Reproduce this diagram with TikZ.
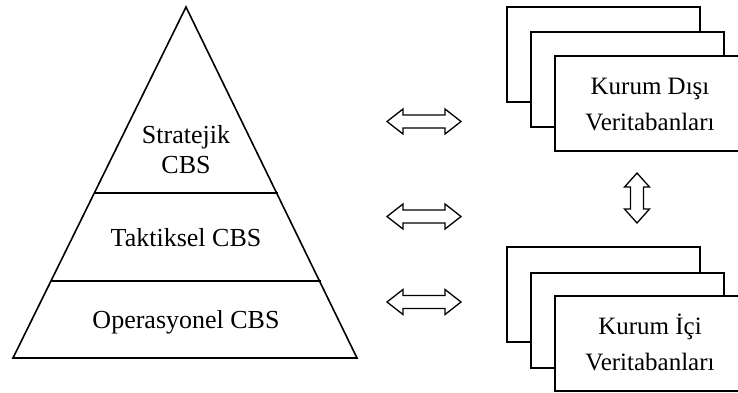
\documentclass[tikz,border=0pt]{standalone}
\usepackage{fontspec}
\setmainfont{Liberation Serif}
\usetikzlibrary{calc}
\begin{document}
\begin{tikzpicture}[x=1pt,y=-1pt,
  dbbox/.style={draw,line width=1.6pt,fill=white,minimum width=193pt,minimum height=95pt,anchor=north west,inner sep=0pt},
  pyrtext/.style={font=\fontsize{26}{30}\selectfont,align=center,inner sep=0pt},
  boxtext/.style={font=\fontsize{25}{36}\selectfont,align=center,inner sep=0pt},
  arr/.style={draw,line width=1.3pt,fill=white,line join=miter}]
\clip (0,0) rectangle (738,392);
\useasboundingbox (0,0) rectangle (738,392);
% pyramid
\coordinate (apex) at (186,7);
\coordinate (bl) at (13,358);
\coordinate (br) at (357,358);
\draw[line width=1.6pt,line join=miter] (apex) -- (br) -- (bl) -- cycle;
\coordinate (l1a) at (94.3,193);
\coordinate (l1b) at (277.7,193);
\coordinate (l2a) at (51,281);
\coordinate (l2b) at (321,281);
\draw[line width=2.2pt] (l1a) -- (l1b);
\draw[line width=2.2pt] (l2a) -- (l2b);
\node[pyrtext] (strat) at (186,150) {Stratejik\\CBS};
\node[pyrtext] (takt) at (186,238) {Taktiksel CBS};
\node[pyrtext] (oper) at (186,322) {Operasyonel CBS};
% top boxes
\node[dbbox] (t1) at (506,6) {};
\node[dbbox] (t2) at (530,31) {};
\node[dbbox] (t3) at (554,55) {};
\node[boxtext] (ttext) at (650,104) {Kurum Dışı\\Veritabanları};
% bottom boxes
\node[dbbox] (b1) at (506,246) {};
\node[dbbox] (b2) at (530,272) {};
\node[dbbox] (b3) at (554,295) {};
\node[boxtext] (btext) at (650,342) {Kurum İçi\\Veritabanları};
% horizontal arrows
\foreach \n/\cy in {a1/121.5,a2/216.5,a3/302}{
  \coordinate (\n) at (424,\cy);
  \draw[arr] ($(\n)+(-37,0)$) -- ++(16,12.5) -- ++(0,-6) -- ++(42,0) -- ++(0,6) -- ++(16,-12.5)
    -- ++(-16,-12.5) -- ++(0,6) -- ++(-42,0) -- ++(0,-6) -- cycle;
}
% vertical arrow
\coordinate (va) at (637,198);
\draw[arr] ($(va)+(0,-25)$) -- ++(12.5,14) -- ++(-6,0) -- ++(0,22) -- ++(6,0) -- ++(-12.5,14)
  -- ++(-12.5,-14) -- ++(6,0) -- ++(0,-22) -- ++(-6,0) -- cycle;
\end{tikzpicture}
\end{document}
